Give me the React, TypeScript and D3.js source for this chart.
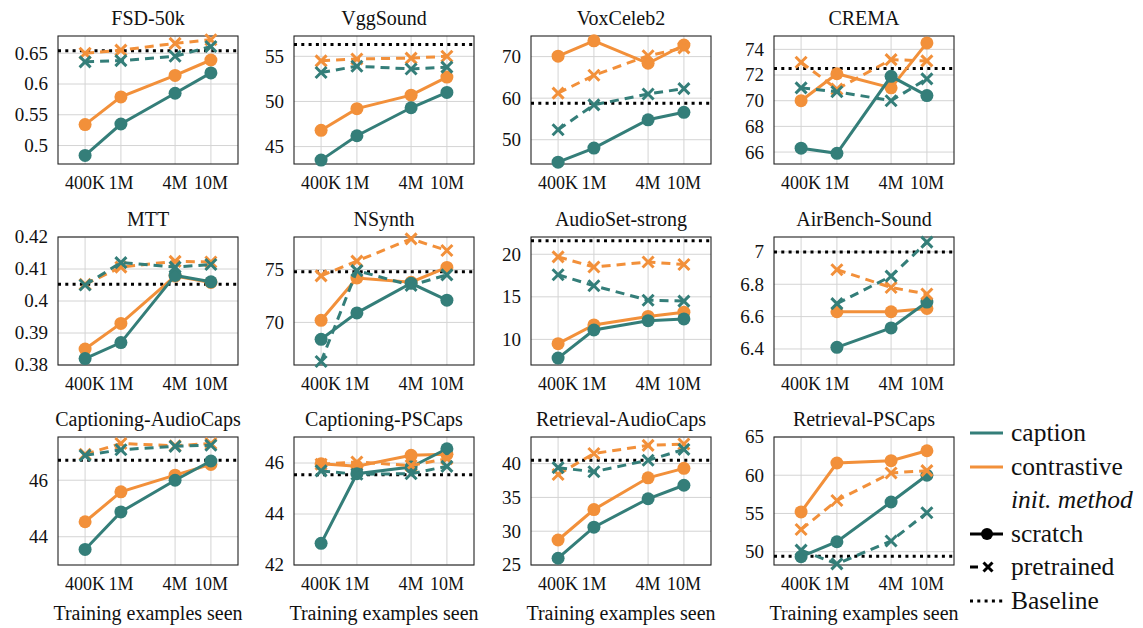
import React from "react";
import * as d3 from "d3";

// ---------- data ----------
const xValues = [4e5, 1e6, 4e6, 1e7];
const xTickLabels = ["400K", "1M", "4M", "10M"];

const panelTitles = [
  "FSD-50k", "VggSound", "VoxCeleb2", "CREMA",
  "MTT", "NSynth", "AudioSet-strong", "AirBench-Sound",
  "Captioning-AudioCaps", "Captioning-PSCaps", "Retrieval-AudioCaps", "Retrieval-PSCaps",
];

const captionScratch: (number | null)[][] = [
  [0.484, 0.535, 0.585, 0.618],
  [43.5, 46.2, 49.3, 51.0],
  [44.6, 48.0, 54.8, 56.6],
  [66.3, 65.9, 71.9, 70.4],
  [0.382, 0.387, 0.408, 0.406],
  [68.4, 70.9, 73.7, 72.1],
  [7.8, 11.1, 12.2, 12.4],
  [null, 6.41, 6.53, 6.69],
  [43.55, 44.88, 46.0, 46.68],
  [42.85, 45.58, 45.84, 46.56],
  [26.0, 30.6, 34.8, 36.8],
  [49.35, 51.3, 56.5, 60.0],
];

const contrastiveScratch: (number | null)[][] = [
  [0.534, 0.579, 0.614, 0.639],
  [46.8, 49.2, 50.7, 52.7],
  [70.1, 73.8, 68.4, 72.8],
  [70.0, 72.1, 71.0, 74.5],
  [0.385, 0.393, 0.4078, 0.4058],
  [70.2, 74.2, 73.8, 75.2],
  [9.5, 11.7, 12.7, 13.2],
  [null, 6.63, 6.63, 6.65],
  [44.53, 45.59, 46.18, 46.56],
  [45.97, 45.87, 46.3, 46.34],
  [28.7, 33.2, 37.9, 39.3],
  [55.2, 61.6, 61.9, 63.2],
];

const contrastivePretrained: (number | null)[][] = [
  [0.65, 0.655, 0.666, 0.672],
  [54.5, 54.7, 54.8, 55.0],
  [61.2, 65.5, 70.2, 72.1],
  [73.0, 70.9, 73.2, 73.1],
  [0.4052, 0.4106, 0.4124, 0.4122],
  [74.4, 75.8, 77.9, 76.8],
  [19.7, 18.5, 19.1, 18.8],
  [null, 6.89, 6.78, 6.74],
  [46.92, 47.3, 47.22, 47.3],
  [45.95, 46.04, 45.9, 46.17],
  [38.4, 41.5, 42.7, 42.9],
  [52.9, 56.7, 60.3, 60.6],
];

const captionPretrained: (number | null)[][] = [
  [0.636, 0.638, 0.645, 0.661],
  [53.2, 53.9, 53.6, 53.8],
  [52.4, 58.4, 61.0, 62.3],
  [71.0, 70.7, 70.0, 71.7],
  [0.405, 0.412, 0.4106, 0.4114],
  [66.3, 74.9, 73.5, 74.5],
  [17.6, 16.3, 14.6, 14.5],
  [null, 6.68, 6.85, 7.06],
  [46.88, 47.08, 47.2, 47.24],
  [45.69, 45.56, 45.58, 45.87],
  [39.4, 38.8, 40.5, 42.1],
  [50.2, 48.4, 51.4, 55.1],
];

const baselines = [0.654, 56.3, 58.8, 72.5, 0.4052, 74.8, 21.6, 7.0, 46.71, 45.54, 40.5, 49.4];

const yDomains: [number, number][] = [
  [0.47, 0.678],
  [43.07, 57.25],
  [44.16, 74.96],
  [65.07, 75.04],
  [0.38, 0.42],
  [65.97, 78.08],
  [6.99, 22.03],
  [6.301, 7.092],
  [43.0, 47.53],
  [42.0, 47.02],
  [25.0, 43.94],
  [48.26, 65.0],
];

const yTicks: number[][] = [
  [0.5, 0.55, 0.6, 0.65],
  [45, 50, 55],
  [50, 60, 70],
  [66, 68, 70, 72, 74],
  [0.38, 0.39, 0.4, 0.41, 0.42],
  [70, 75],
  [10, 15, 20],
  [6.4, 6.6, 6.8, 7],
  [44, 46],
  [42, 44, 46],
  [25, 30, 35, 40],
  [50, 55, 60, 65],
];

const xAxisLabel = "Training examples seen";
const legendLabels = ["caption", "contrastive", "init. method", "scratch", "pretrained", "Baseline"];

// ---------- layout / style ----------
const COL_X = [58, 294, 531, 774];
const ROW_Y = [36, 237, 437];
const W = 180;
const H = 128;
const TEAL = "#347e79";
const ORANGE = "#f2903a";
const FONT = '"Liberation Serif", "Times New Roman", Tinos, Times, "DejaVu Serif", serif';

const XMark = ({ x, y, color, s = 5.5 }: { x: number; y: number; color: string; s?: number }) => (
  <path
    d={`M${x - s},${y - s}L${x + s},${y + s}M${x - s},${y + s}L${x + s},${y - s}`}
    stroke={color}
    strokeWidth={3}
    fill="none"
  />
);

function Panel({ i }: { i: number }) {
  const left = COL_X[i % 4];
  const top = ROW_Y[Math.floor(i / 4)];
  const x = d3.scaleLog().domain([2e5, 2e7]).range([0, W]);
  const y = d3.scaleLinear().domain(yDomains[i]).range([H, 0]);
  const line = d3
    .line<number | null>()
    .defined((d) => d !== null)
    .x((_, k) => x(xValues[k]))
    .y((d) => y(d as number));

  const series = [
    { data: contrastiveScratch[i], color: ORANGE, dashed: false },
    { data: captionScratch[i], color: TEAL, dashed: false },
    { data: contrastivePretrained[i], color: ORANGE, dashed: true },
    { data: captionPretrained[i], color: TEAL, dashed: true },
  ];

  const row = Math.floor(i / 4);

  return (
    <g transform={`translate(${left},${top})`}>
      {xValues.map((v, k) => (
        <line key={"gx" + k} x1={x(v)} x2={x(v)} y1={0} y2={H} stroke="#d4d4d4" strokeWidth={1} />
      ))}
      {yTicks[i].map((v, k) => (
        <line key={"gy" + k} x1={0} x2={W} y1={y(v)} y2={y(v)} stroke="#d4d4d4" strokeWidth={1} />
      ))}
      <rect x={0} y={0} width={W} height={H} fill="none" stroke="#222" strokeWidth={1.1} />
      <line
        x1={0}
        x2={W}
        y1={y(baselines[i])}
        y2={y(baselines[i])}
        stroke="#000"
        strokeWidth={3}
        strokeDasharray="3 4.3"
      />
      {series.map((s, k) => (
        <g key={"s" + k}>
          <path
            d={line(s.data) || ""}
            fill="none"
            stroke={s.color}
            strokeWidth={3}
            strokeDasharray={s.dashed ? "9 6" : undefined}
          />
          {s.data.map((d, j) =>
            d === null ? null : s.dashed ? (
              <XMark key={j} x={x(xValues[j])} y={y(d)} color={s.color} />
            ) : (
              <circle key={j} cx={x(xValues[j])} cy={y(d)} r={6.5} fill={s.color} />
            )
          )}
        </g>
      ))}
      <text x={W / 2} y={-11} textAnchor="middle" fontSize={20}>
        {panelTitles[i]}
      </text>
      {yTicks[i].map((v, k) => (
        <text key={"ty" + k} x={-10} y={y(v)} dy="0.34em" textAnchor="end" fontSize={19}>
          {String(v)}
        </text>
      ))}
      {xValues.map((v, k) => (
        <text key={"tx" + k} x={x(v)} y={H + 25} textAnchor="middle" fontSize={18}>
          {xTickLabels[k]}
        </text>
      ))}
      {row === 2 && (
        <text x={W / 2} y={H + 55} textAnchor="middle" fontSize={20}>
          {xAxisLabel}
        </text>
      )}
    </g>
  );
}

function Legend() {
  const x0 = 970;
  const x1 = 1003;
  const tx = 1011;
  const ys = [433, 467, 500, 534, 567, 601];
  return (
    <g>
      <line x1={x0} x2={x1} y1={ys[0]} y2={ys[0]} stroke={TEAL} strokeWidth={3} />
      <line x1={x0} x2={x1} y1={ys[1]} y2={ys[1]} stroke={ORANGE} strokeWidth={3} />
      <line x1={x0} x2={x1} y1={ys[3]} y2={ys[3]} stroke="#000" strokeWidth={3} />
      <circle cx={987} cy={ys[3]} r={6} fill="#000" />
      <line x1={x0} x2={978} y1={ys[4]} y2={ys[4]} stroke="#000" strokeWidth={3} />
      <XMark x={988} y={ys[4]} color="#000" s={4.5} />
      <line x1={x0} x2={x1} y1={ys[5]} y2={ys[5]} stroke="#000" strokeWidth={3} strokeDasharray="3 4.3" />
      {legendLabels.map((t, k) => (
        <text key={k} x={tx} y={ys[k] + 8} fontSize={25.5} fontStyle={k === 2 ? "italic" : "normal"}>
          {t}
        </text>
      ))}
    </g>
  );
}

export default function App() {
  return (
    <svg
      width={1143}
      height={628}
      style={{ position: "absolute", left: 0, top: 0, background: "#fff", fontFamily: FONT, fill: "#111" }}
    >
      <rect x={0} y={0} width={1143} height={628} fill="#fff" />
      {panelTitles.map((_, i) => (
        <Panel key={i} i={i} />
      ))}
      <Legend />
    </svg>
  );
}
